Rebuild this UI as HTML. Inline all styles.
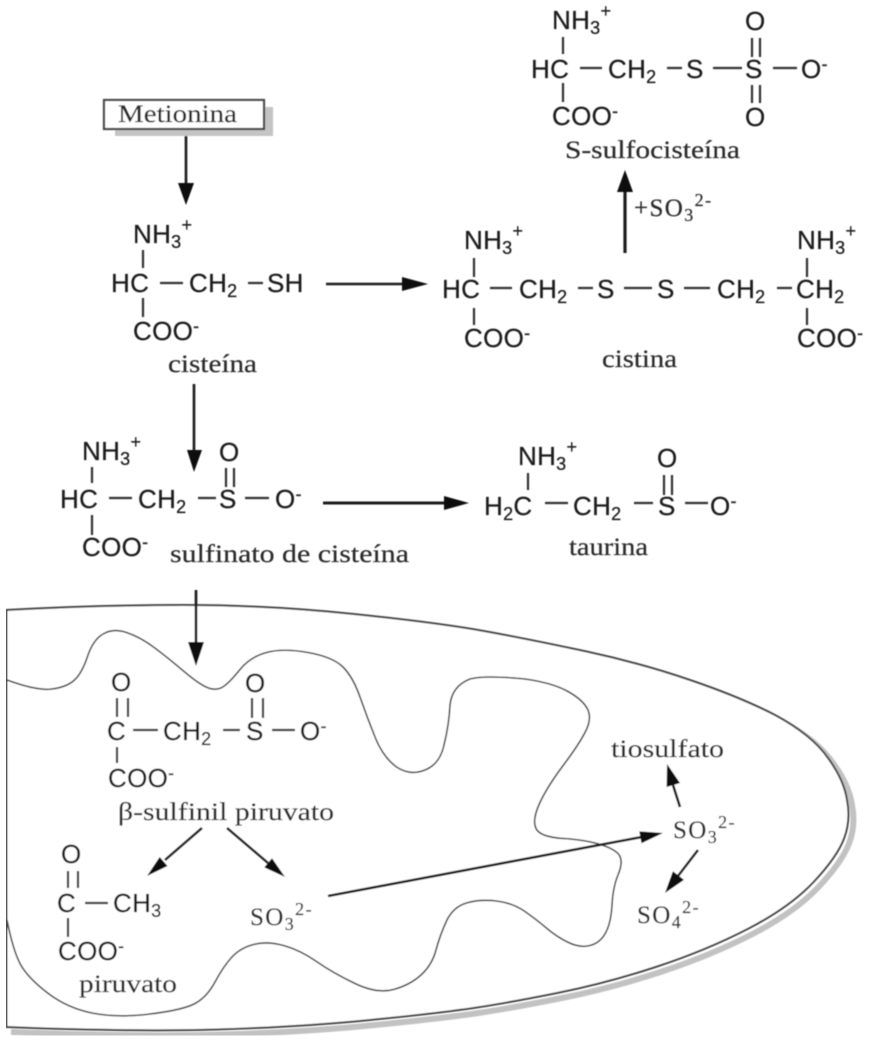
<!DOCTYPE html>
<html><head><meta charset="utf-8"><style>
html,body{margin:0;padding:0;background:#fff}
svg{display:block}
.s{font-family:"Liberation Sans",sans-serif;font-size:26px;fill:#1c1c1c;letter-spacing:.3px;stroke:#1c1c1c;stroke-width:.25px}
.r{font-family:"Liberation Serif",serif;font-size:25px;fill:#2a2a2a;stroke:#2a2a2a;stroke-width:.2px}
.r2{letter-spacing:1.4px}
.b{stroke:#333;stroke-width:2.2;fill:none}
.a{stroke:#1a1a1a;stroke-width:2.6;fill:none}
.h{fill:#111}
tspan.u{font-size:18px}
</style></head><body>
<svg width="877" height="1046" viewBox="0 0 877 1046" xmlns="http://www.w3.org/2000/svg">
<defs><filter id="f" x="0" y="0" width="100%" height="100%"><feGaussianBlur stdDeviation="0.5"/></filter>
<path id="o" d="M6 610Q100 605 183.5 605Q267 605 353.5 614Q440 623 486.5 631.5Q533 640 586.5 651.5Q640 663 690 680Q740 697 775 715Q812 735 828 758Q844 780 847 800Q851 820 844 838.5Q837 857 813.5 882Q790 907 748.5 928.5Q707 950 657 966.5Q607 983 557 993Q507 1003 473.5 1008Q440 1013 370 1020Q300 1027 216.5 1029.5Q133 1032 6 1027"/>
</defs>
<rect width="877" height="1046" fill="#fff"/>
<g filter="url(#f)">
<use href="#o" transform="translate(5 5)" fill="none" stroke="#c2c2c2" stroke-width="6"/>
<use href="#o" fill="#fff" stroke="none"/>
<use href="#o" fill="none" stroke="#444" stroke-width="2"/>
<path d="M6 609V1028" stroke="#444" stroke-width="3" fill="none"/>
<path d="M7 680Q37 691 52 689Q67 687 74.5 680Q82 673 87.5 656.5Q93 640 103 634Q113 628 126.5 632.5Q140 637 153.5 647Q167 657 183.5 671Q200 685 208.5 688Q217 691 223.5 686.5Q230 682 240 669.5Q250 657 266.5 652.5Q283 648 308 652.5Q333 657 343 667Q353 677 360 697Q367 717 375 737Q383 757 396.5 767Q410 776 425 770Q440 764 444 745Q449 725 450 705Q452 686 470 679Q485 675 525 679Q553 683 568 691.5Q583 700 587.5 709Q592 718 586 730.5Q580 743 563.5 765Q547 787 539.5 803.5Q532 820 536 828.5Q540 837 563.5 838.5Q587 840 602 845Q617 850 620 856.5Q623 863 618 875Q613 887 612 905Q611 923 605.5 933Q600 943 590 945.5Q580 948 568.5 942.5Q557 937 547 928.5Q537 920 525 911.5Q513 903 496.5 901Q480 899 466.5 903Q453 907 446.5 921Q440 935 436 950Q432 965 421 975Q410 985 393.5 989.5Q377 994 355 983.5Q333 973 316.5 961.5Q300 950 283.5 945.5Q267 941 253.5 944.5Q240 948 231.5 957.5Q223 967 215 982Q207 997 195 1003.5Q183 1010 150 1014Q117 1018 92 1013Q67 1008 47 992.5Q27 977 20 963.5Q13 950 7 920" fill="none" stroke="#444" stroke-width="1.6"/>

<!-- arrows -->
<g class="a">
<path d="M186 129V186"/><path d="M625 253V190" stroke-width="3.2"/><path d="M326 284H405"/><path d="M194 384V452"/><path d="M323 503H448" stroke-width="3"/><path d="M196 590V645"/>
<path d="M202 828L165 860"/><path d="M227 828L268 863"/><path d="M328 896L642 837"/><path d="M680 807L673 785"/><path d="M698 850L678 876"/>
</g>
<g class="h">
<path d="M178 183H194L186 205Z"/>
<path d="M617 192H633L625 170Z"/>
<path d="M402 277V291L428 284Z"/>
<path d="M187 450H202L194 472Z"/>
<path d="M444 496V510L469 503Z"/>
<path d="M188 642H204L196 666Z"/>
<path d="M147 876L167.5 866L159.7 857Z"/>
<path d="M285 877L272 858.2L264.3 867.4Z"/>
<path d="M663 833L641.5 843.2L639.3 831.4Z"/>
<path d="M667 764L680 783L666.7 787Z"/>
<path d="M665 893L684 879.9L672.9 871.3Z"/>
</g>

<!-- Metionina box -->
<rect x="115" y="107" width="158" height="29" fill="#c4c4c4"/>
<rect x="104" y="100" width="160" height="29" fill="#fff" stroke="#444" stroke-width="2.2"/>
<text class="r" x="118" y="122" textLength="119" lengthAdjust="spacingAndGlyphs">Metionina</text>

<!-- bonds -->
<g class="b">
<path d="M563 37V54M563 83V102M580 68H602M667 68H682M713 68H742M773 68H797M752 38V57M760 38V57M752 85V103M760 85V103"/>
<path d="M143 250V268M143 298V317M160 283H183M248 283H263"/>
<path d="M474 258V277M474 308V325M490 288H512M578 288H593M624 288H652M684 288H710M777 288H792M807 258V277M807 308V325"/>
<path d="M92 467V483M92 515V535M109 498H132M198 498H216M245 498H269M226 468V487M234 468V487"/>
<path d="M528 473V490M545 503H568M634 503H653M685 503H708M664 475V495M672 475V495"/>
<path d="M117 698V717M128 698V717M117 747V763M133 730H158M223 730H240M272 730H295M252 698V718M263 698V718"/>
<path d="M68 871V888M78 871V888M68 918V937M85 903H108"/>
</g>

<g class="s">
<text x="552" y="29">NH<tspan class="u" dy="5">3</tspan><tspan class="u" dy="-17">+</tspan></text>
<text x="531" y="78">HC</text>
<text x="608" y="78">CH<tspan class="u" dy="5">2</tspan></text>
<text x="686" y="78">S</text>
<text x="745" y="78">S</text>
<text x="801" y="78">O<tspan class="u" dy="-8">-</tspan></text>
<text x="745" y="30">O</text>
<text x="745" y="126">O</text>
<text x="552" y="125">COO<tspan class="u" dy="-8">-</tspan></text>

<text x="133" y="243">NH<tspan class="u" dy="5">3</tspan><tspan class="u" dy="-17">+</tspan></text>
<text x="111" y="292">HC</text>
<text x="189" y="292">CH<tspan class="u" dy="5">2</tspan></text>
<text x="267" y="292">SH</text>
<text x="133" y="340">COO<tspan class="u" dy="-8">-</tspan></text>

<text x="464" y="249">NH<tspan class="u" dy="5">3</tspan><tspan class="u" dy="-17">+</tspan></text>
<text x="442" y="298">HC</text>
<text x="519" y="298">CH<tspan class="u" dy="5">2</tspan></text>
<text x="597" y="298">S</text>
<text x="657" y="298">S</text>
<text x="717" y="298">CH<tspan class="u" dy="5">2</tspan></text>
<text x="796" y="298">CH<tspan class="u" dy="5">2</tspan></text>
<text x="464" y="347">COO<tspan class="u" dy="-8">-</tspan></text>
<text x="797" y="249">NH<tspan class="u" dy="5">3</tspan><tspan class="u" dy="-17">+</tspan></text>
<text x="797" y="347">COO<tspan class="u" dy="-8">-</tspan></text>

<text x="82" y="460">NH<tspan class="u" dy="5">3</tspan><tspan class="u" dy="-17">+</tspan></text>
<text x="60" y="508">HC</text>
<text x="138" y="508">CH<tspan class="u" dy="5">2</tspan></text>
<text x="219" y="508">S</text>
<text x="275" y="508">O<tspan class="u" dy="-8">-</tspan></text>
<text x="219" y="461">O</text>
<text x="82" y="556">COO<tspan class="u" dy="-8">-</tspan></text>

<text x="518" y="465">NH<tspan class="u" dy="5">3</tspan><tspan class="u" dy="-17">+</tspan></text>
<text x="484" y="515">H<tspan class="u" dy="5">2</tspan><tspan dy="-5">C</tspan></text>
<text x="573" y="515">CH<tspan class="u" dy="5">2</tspan></text>
<text x="658" y="515">S</text>
<text x="710" y="515">O<tspan class="u" dy="-8">-</tspan></text>
<text x="657" y="467">O</text>

<text x="111" y="691">O</text>
<text x="107" y="740">C</text>
<text x="163" y="740">CH<tspan class="u" dy="5">2</tspan></text>
<text x="246" y="740">S</text>
<text x="300" y="740">O<tspan class="u" dy="-8">-</tspan></text>
<text x="245" y="692">O</text>
<text x="108" y="787">COO<tspan class="u" dy="-8">-</tspan></text>

<text x="61" y="863">O</text>
<text x="57" y="912">C</text>
<text x="113" y="912">CH<tspan class="u" dy="5">3</tspan></text>
<text x="58" y="960">COO<tspan class="u" dy="-8">-</tspan></text>
</g>

<g class="r">
<text x="565" y="158" textLength="175" lengthAdjust="spacingAndGlyphs">S-sulfocisteína</text>
<text class="r2" x="634" y="216">+SO<tspan class="u" dy="5">3</tspan><tspan class="u" dy="-15">2-</tspan></text>
<text x="168" y="372" textLength="89" lengthAdjust="spacingAndGlyphs">cisteína</text>
<text x="602" y="367" textLength="75" lengthAdjust="spacingAndGlyphs">cistina</text>
<text x="170" y="562" textLength="239" lengthAdjust="spacingAndGlyphs">sulfinato de cisteína</text>
<text x="569" y="555" textLength="79" lengthAdjust="spacingAndGlyphs">taurina</text>
<text x="118" y="820" textLength="216" lengthAdjust="spacingAndGlyphs">β-sulfinil piruvato</text>
<text x="79" y="992" textLength="98" lengthAdjust="spacingAndGlyphs">piruvato</text>
<text x="611" y="757" textLength="113" lengthAdjust="spacingAndGlyphs">tiosulfato</text>
<text class="r2" x="250" y="925">SO<tspan class="u" dy="5">3</tspan><tspan class="u" dy="-15">2-</tspan></text>
<text class="r2" x="673" y="838">SO<tspan class="u" dy="5">3</tspan><tspan class="u" dy="-15">2-</tspan></text>
<text class="r2" x="637" y="923">SO<tspan class="u" dy="5">4</tspan><tspan class="u" dy="-15">2-</tspan></text>
</g>
</g>
</svg>
</body></html>
